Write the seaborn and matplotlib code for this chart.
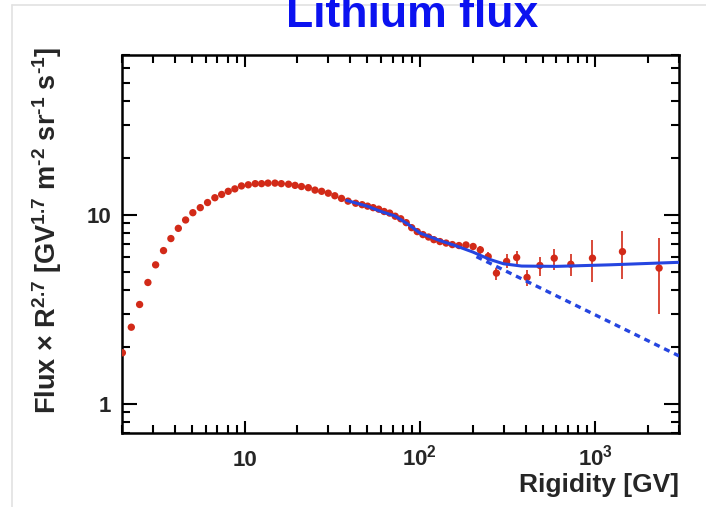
import numpy as np
import pandas as pd
import matplotlib
matplotlib.use("Agg")
import matplotlib.pyplot as plt
import matplotlib.ticker as mticker
from matplotlib.lines import Line2D
import seaborn as sns

# ---------------- data ----------------
rigidity = [2.01, 2.26, 2.52, 2.81, 3.11, 3.45, 3.80, 4.19, 4.61, 5.07,
            5.59, 6.15, 6.77, 7.40, 8.07, 8.80, 9.60, 10.5, 11.5, 12.5,
            13.6, 14.9, 16.2, 17.8, 19.4, 21.1, 23.1, 25.2, 27.5, 30.0,
            32.7, 35.7, 38.9, 43.0,
            46.8, 50.3, 54.1, 58.2, 62.5, 67.2, 72.3, 77.7, 83.5, 89.7,
            96.5, 104, 112, 120, 130, 141, 153, 167, 183, 201, 221, 245,
            273, 312, 356, 408, 483, 583, 725, 963, 1428, 2310]
flux = [1.86, 2.54, 3.35, 4.38, 5.43, 6.46, 7.48, 8.47, 9.38, 10.25,
        10.9, 11.6, 12.3, 12.8, 13.3, 13.7, 14.2, 14.4, 14.6, 14.6,
        14.7, 14.7, 14.6, 14.5, 14.3, 14.1, 13.9, 13.5, 13.3, 13.0,
        12.6, 12.2, 11.8, 11.5,
        11.3, 11.1, 10.9, 10.7, 10.4, 10.2, 9.82, 9.52, 9.08, 8.54,
        8.14, 7.85, 7.62, 7.38, 7.21, 7.08, 6.95, 6.87, 6.92, 6.79, 6.52, 6.01,
        4.91, 5.66, 5.94, 4.66, 5.39, 5.89, 5.47, 5.89, 6.38, 5.22]
err_down = [0.04, 0.05, 0.06, 0.08, 0.09, 0.11, 0.12, 0.13, 0.14, 0.15,
            0.16, 0.17, 0.18, 0.18, 0.19, 0.19, 0.20, 0.20, 0.20, 0.20,
            0.20, 0.20, 0.20, 0.20, 0.20, 0.20, 0.20, 0.20, 0.20, 0.20,
            0.20, 0.20, 0.20, 0.20,
            0.20, 0.20, 0.20, 0.20, 0.20, 0.20, 0.20, 0.20, 0.20, 0.20,
            0.20, 0.20, 0.20, 0.20, 0.20, 0.22, 0.24, 0.26, 0.28, 0.30, 0.33, 0.37,
            0.38, 0.45, 0.47, 0.48, 0.63, 0.77, 0.71, 1.49, 1.79, 2.23]
err_up = [0.04, 0.05, 0.06, 0.08, 0.09, 0.11, 0.12, 0.13, 0.14, 0.15,
          0.16, 0.17, 0.18, 0.18, 0.19, 0.19, 0.20, 0.20, 0.20, 0.20,
          0.20, 0.20, 0.20, 0.20, 0.20, 0.20, 0.20, 0.20, 0.20, 0.20,
          0.20, 0.20, 0.20, 0.20,
          0.20, 0.20, 0.20, 0.20, 0.20, 0.20, 0.20, 0.20, 0.20, 0.20,
          0.20, 0.20, 0.20, 0.20, 0.20, 0.22, 0.24, 0.26, 0.28, 0.30, 0.33, 0.37,
          0.30, 0.55, 0.50, 0.46, 0.62, 0.71, 0.74, 1.47, 1.82, 2.28]

# fit (solid) and single power-law extrapolation (dashed), read as knots
fit_rigidity = [38.2, 50, 60, 72, 85, 100, 130, 160, 200, 250, 300, 380, 600, 1200, 3000]
fit_flux = [11.9, 11.1, 10.4, 9.85, 8.95, 8.0, 7.3, 6.85, 6.35, 5.8, 5.5, 5.35, 5.33, 5.43, 5.6]
pl_rigidity = [210, 3000]
pl_flux = [6.0, 1.79]

x_ticks = [10, 100, 1000]
x_ticklabels = ["10", r"$\mathbf{10^{2}}$", r"$\mathbf{10^{3}}$"]
y_ticks = [1, 10]
y_ticklabels = ["1", "10"]

title = "Lithium flux"
xlabel = "Rigidity [GV]"
ylabel = r"Flux $\times$ R$^{2.7}$ [GV$^{1.7}$ m$^{\text{-}2}$ sr$^{\text{-}1}$ s$^{\text{-}1}$]"

# ---------------- style ----------------
sns.set_style("white")
plt.rcParams["font.family"] = ["Liberation Sans", "DejaVu Sans"]
plt.rcParams["font.weight"] = "bold"
plt.rcParams["mathtext.fontset"] = "custom"
plt.rcParams["mathtext.rm"] = "Liberation Sans:bold"
plt.rcParams["mathtext.it"] = "Liberation Sans:bold"
plt.rcParams["mathtext.bf"] = "Liberation Sans:bold"
plt.rcParams["mathtext.default"] = "bf"

RED = "#d22a18"
BLUE = "#2545e0"

fig = plt.figure(figsize=(7.06, 5.07), dpi=100)
ax = fig.add_axes([122 / 706, 1 - 433 / 507, (679 - 122) / 706, (433 - 55) / 507])

df = pd.DataFrame({"R": rigidity, "F": flux, "lo": err_down, "hi": err_up})
fit_df = pd.DataFrame({"R": fit_rigidity, "F": fit_flux})
pl_df = pd.DataFrame({"R": pl_rigidity, "F": pl_flux})

ax.set_xscale("log")
ax.set_yscale("log")

ax.errorbar(df["R"], df["F"], yerr=[df["lo"], df["hi"]], fmt="none",
            ecolor=RED, elinewidth=1.2, capsize=0, zorder=2)
sns.scatterplot(data=df, x="R", y="F", ax=ax, color=RED, s=28,
                edgecolor="none", zorder=3, legend=False)
sns.lineplot(data=fit_df, x="R", y="F", ax=ax, color=BLUE, lw=2.2,
             zorder=4, legend=False, sort=True)
sns.lineplot(data=pl_df, x="R", y="F", ax=ax, color=BLUE, lw=2.4,
             zorder=4, legend=False, dashes=False)
ax.lines[-1].set_dashes([1.8, 1.5])

ax.set_xlim(2, 3000)
ax.set_ylim(0.7, 70)

ax.xaxis.set_major_locator(mticker.FixedLocator(x_ticks))
ax.xaxis.set_major_formatter(mticker.FixedFormatter(x_ticklabels))
ax.yaxis.set_major_locator(mticker.FixedLocator(y_ticks))
ax.yaxis.set_major_formatter(mticker.FixedFormatter(y_ticklabels))
ax.xaxis.set_minor_locator(mticker.LogLocator(base=10, subs=np.arange(2, 10)))
ax.yaxis.set_minor_locator(mticker.LogLocator(base=10, subs=np.arange(2, 10)))
ax.xaxis.set_minor_formatter(mticker.NullFormatter())
ax.yaxis.set_minor_formatter(mticker.NullFormatter())

ax.tick_params(which="both", direction="in", top=True, right=True,
               bottom=True, left=True, width=1.5, color="black")
ax.tick_params(axis="x", which="major", length=8.5, labelsize=16, pad=23.5)
ax.tick_params(axis="x", which="minor", length=5.5)
ax.tick_params(axis="y", which="major", length=11, labelsize=16, pad=8)
ax.tick_params(axis="y", which="minor", length=5.5)
for lab in ax.get_xticklabels():
    lab.set_verticalalignment("baseline")
    lab.set_fontweight("bold")
for lab in ax.get_yticklabels():
    lab.set_fontweight("bold")

for sp in ax.spines.values():
    sp.set_linewidth(1.8)
    sp.set_color("black")
    sp.set_visible(True)

ax.set_xlabel(xlabel, fontsize=19, fontweight="bold", loc="right")
ax.xaxis.label.set_verticalalignment("baseline")
ax.xaxis.set_label_coords(1.0, (433 - 492) / 378)
ax.set_ylabel(ylabel, fontsize=19.5, fontweight="bold")
ax.yaxis.set_label_coords(-0.104, 0.536)

# light frame of the slide
fig.add_artist(Line2D([12 / 706, 12 / 706], [0, 1 - 5 / 507],
                      transform=fig.transFigure, color="#e2e2e2", lw=1.2, zorder=0))
fig.add_artist(Line2D([12 / 706, 1], [1 - 5 / 507, 1 - 5 / 507],
                      transform=fig.transFigure, color="#e2e2e2", lw=1.2, zorder=0))

fig.text(412 / 706, 1 - 27 / 507, title, ha="center", va="baseline",
         fontsize=32, fontweight="bold", color="#0b12f0")

fig.savefig("out.png", dpi=100)
